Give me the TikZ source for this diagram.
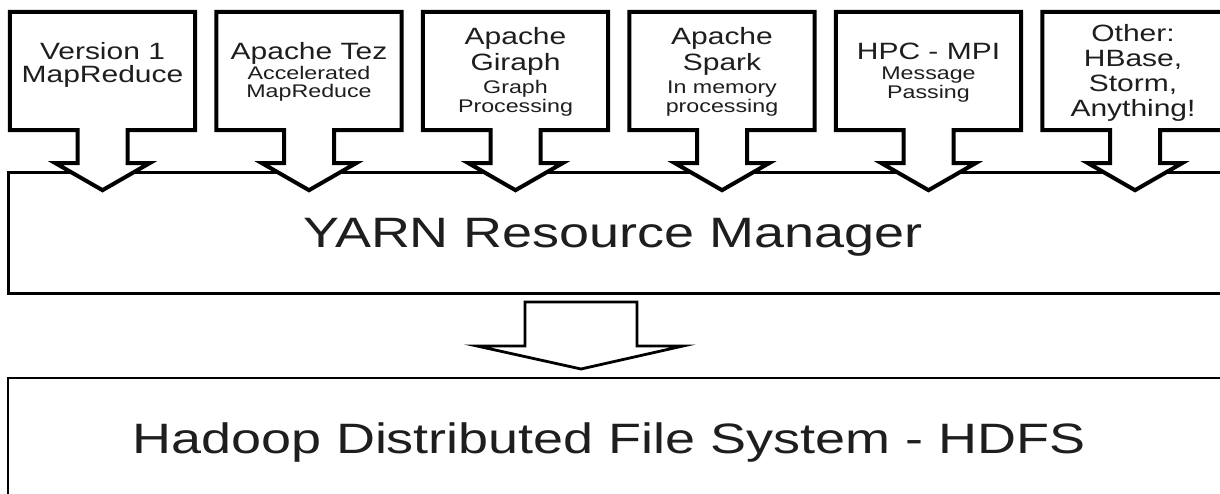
\documentclass[tikz,border=0pt]{standalone}
\usepackage{fontspec}
\setmainfont{Liberation Sans}[FakeStretch=1.27]
\usetikzlibrary{calc}
\definecolor{txt}{HTML}{1E1E1E}
\tikzset{
  srcbox/.style={rectangle, minimum width=185pt, minimum height=118pt, inner sep=0pt, draw=none},
  outline/.style={draw=black, line width=4pt, line join=miter, fill=white},
  layerbox/.style={rectangle, inner sep=0pt, draw=black, fill=white},
  bigtxt/.style={font=\fontsize{23.6}{27}\selectfont, anchor=base, text=txt, inner sep=0pt},
  smalltxt/.style={font=\fontsize{18.3}{21}\selectfont, anchor=base, text=txt, inner sep=0pt},
  hugetxt/.style={font=\fontsize{42.5}{50}\selectfont, anchor=base, text=txt, inner sep=0pt},
}
\begin{document}
\begin{tikzpicture}[x=1pt, y=-1pt]
\useasboundingbox (0,0) rectangle (1220,494);
\fill[white] (0,0) rectangle (1220,494);
\clip (0,0) rectangle (1220,494);

% layers
\node[layerbox, line width=3pt, minimum width=1230pt, minimum height=120pt] (yarn) at (623,233) {};
\node[layerbox, line width=2.7pt, minimum width=1230pt, minimum height=140pt] (hdfs) at (623,448) {};

% source boxes with their arrows
\foreach \i in {1,...,6} {
  \node[srcbox] (s\i) at ({102.5+206.5*(\i-1)},71) {};
  \draw[outline] (s\i.north west) -- (s\i.north east) -- (s\i.south east)
    -- ($(s\i.south)+(25,0)$) -- ($(s\i.south)+(25,33)$) -- ($(s\i.south)+(47,33)$)
    -- ($(s\i.south)+(0,60)$) -- ($(s\i.south)+(-47,33)$) -- ($(s\i.south)+(-25,33)$)
    -- ($(s\i.south)+(-25,0)$) -- (s\i.south west) -- cycle;
}

% down arrow from YARN to HDFS
\coordinate (da) at (581,302);
\draw[draw=black, line width=2.8pt, line join=miter, fill=white]
  ($(da)+(-56,0)$) -- ($(da)+(56,0)$) -- ($(da)+(56,44)$) -- ($(da)+(102,44)$)
  -- ($(da)+(0,67)$) -- ($(da)+(-104,44)$) -- ($(da)+(-56,44)$) -- cycle;

% texts
\node[bigtxt] (t1a) at (102.5,60) {Version 1};
\node[bigtxt] (t1b) at (102.5,83) {MapReduce};

\node[bigtxt] (t2a) at (309,60) {Apache Tez};
\node[smalltxt] (t2b) at (309,80) {Accelerated};
\node[smalltxt] (t2c) at (309,98) {MapReduce};

\node[bigtxt] (t3a) at (515.5,45) {Apache};
\node[bigtxt] (t3b) at (515.5,71) {Giraph};
\node[smalltxt] (t3c) at (515.5,94) {Graph};
\node[smalltxt] (t3d) at (515.5,113) {Processing};

\node[bigtxt] (t4a) at (722,45) {Apache};
\node[bigtxt] (t4b) at (722,71) {Spark};
\node[smalltxt] (t4c) at (722,94) {In memory};
\node[smalltxt] (t4d) at (722,113) {processing};

\node[bigtxt] (t5a) at (928.5,60) {HPC - MPI};
\node[smalltxt] (t5b) at (928.5,80) {Message};
\node[smalltxt] (t5c) at (928.5,99) {Passing};

\node[bigtxt] (t6a) at (1133,42) {Other:};
\node[bigtxt] (t6b) at (1133,67) {HBase,};
\node[bigtxt] (t6c) at (1133,92) {Storm,};
\node[bigtxt] (t6d) at (1133,117) {Anything!};

\node[hugetxt] (ty) at (613,248) {YARN Resource Manager};
\node[hugetxt] (th) at (609,453) {Hadoop Distributed File System - HDFS};
\end{tikzpicture}
\end{document}
